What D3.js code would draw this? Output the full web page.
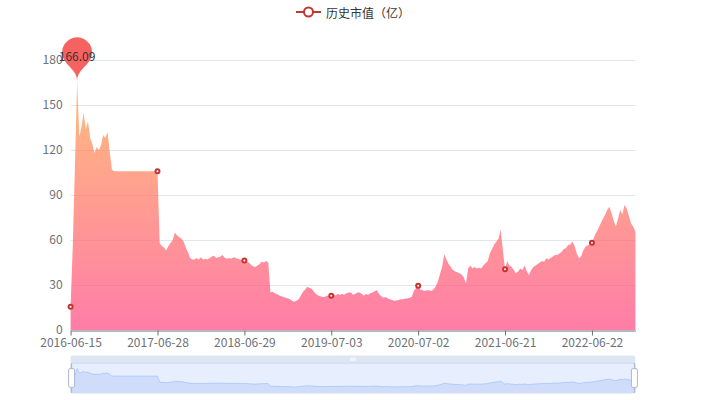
<!DOCTYPE html>
<html><head><meta charset="utf-8">
<script src="https://cdn.jsdelivr.net/npm/d3@7/dist/d3.min.js"></script>
<style>
body{margin:0;background:#fff}
svg{display:block}
text{font-family:"Microsoft YaHei","Noto Sans CJK SC","Noto Sans",sans-serif}
</style>
</head><body>
<svg id="chart" width="706" height="400"></svg>
<script>
// ---------------- data ----------------
const seriesName = "历史市值（亿）";
const tickLabels = ["2016-06-15","2017-06-28","2018-06-29","2019-07-03","2020-07-02","2021-06-21","2022-06-22"];
const labelInterval = 40;           // one labelled category every 40 points
const yTicks = [0, 30, 60, 90, 120, 150, 180];
const values = [
  15.5, 56, 110, 166.09, 129, 135, 145, 134, 139, 128,
  124, 118, 122, 120, 123, 130, 128, 132, 119, 107,
  105.8, 105.8, 105.8, 105.8, 105.8, 105.8, 105.8, 105.8, 105.8, 105.8,
  105.8, 105.8, 105.8, 105.8, 105.8, 105.8, 105.8, 105.8, 105.8, 105.8,
  105.8, 58, 56, 55, 53, 56, 58, 60, 65, 63,
  62, 61, 59, 55, 52, 48, 47, 47, 48, 47,
  48.5, 47, 47.5, 47, 48, 49, 49.5, 48, 48.5, 49,
  50, 48, 47.5, 48, 47.5, 48.5, 48, 47.5, 47, 46.5,
  46.3, 46, 45, 43.5, 42.5, 42, 43, 44, 45.5, 45,
  46, 45, 25, 25.5, 24.5, 24, 23, 22.5, 22, 21.5,
  21, 20.5, 19.5, 18.8, 19.5, 20.5, 23, 25.5, 27, 28.8,
  28, 27.5, 25.5, 24, 23, 22.5, 22, 22, 23, 22.5,
  22.9, 24, 23, 24, 23.5, 24, 23.5, 24.5, 25, 25,
  23.5, 24, 25, 25, 24, 23, 24, 23.5, 24.5, 25,
  26, 26.5, 24, 22.5, 21.5, 22, 21, 20.5, 20, 19.5,
  19.7, 20, 20.5, 20.5, 21, 21, 21.5, 22, 26, 28,
  29.5, 27, 26.5, 26, 26.5, 26.5, 26, 27, 29, 32,
  37, 42, 50.5, 47, 44, 42, 40, 39, 38.5, 37.8,
  37, 35, 31, 41, 43, 41, 42, 41, 41.5, 41,
  43, 44.5, 45.8, 51, 54, 57, 59, 61, 67, 53,
  40.5, 46, 43, 42, 40, 37.8, 39, 41, 40, 43,
  39, 36.7, 40, 42, 43, 44, 45, 46, 45.5, 47.8,
  47, 48, 49, 50, 50, 51, 52, 54, 54.5, 56.7,
  57, 59, 56, 51, 47.8, 49, 53, 55.5, 56.5, 57,
  58.2, 62, 65, 67.8, 71, 74, 76.7, 80, 82.2, 78,
  73, 69, 74, 80, 77, 83.3, 81, 76, 71, 69,
  65.7
];

// ---------------- layout ----------------
const W = 706, H = 400;
const gridLeft = 70.6, gridRight = 635.4, gridTop = 60, gridBottom = 330;
const seriesColor = "#c23531";
const axisColor = "#6E7079";
const splitColor = "#E0E6F1";
const font = 12;

const svg = d3.select("#chart");
const x = d3.scaleLinear().domain([0, values.length - 1]).range([gridLeft, gridRight]);
const y = d3.scaleLinear().domain([0, 180]).range([gridBottom, gridTop]);

// split lines
svg.append("g").selectAll("line").data(yTicks.filter(d => d > 0)).join("line")
  .attr("x1", gridLeft).attr("x2", gridRight)
  .attr("y1", d => y(d) + 0.5).attr("y2", d => y(d) + 0.5)
  .attr("stroke", splitColor).attr("stroke-width", 1);

// gradient for area
const defs = svg.append("defs");
const maxV = d3.max(values);
const grad = defs.append("linearGradient").attr("id", "areaGrad")
  .attr("gradientUnits", "userSpaceOnUse")
  .attr("x1", 0).attr("x2", 0).attr("y1", y(maxV)).attr("y2", y(0));
grad.append("stop").attr("offset", 0).attr("stop-color", "rgb(255,158,68)");
grad.append("stop").attr("offset", 1).attr("stop-color", "rgb(255,70,131)");

const area = d3.area().x((d, i) => x(i)).y0(y(0)).y1(d => y(d));
svg.append("path").datum(values).attr("d", area)
  .attr("fill", "url(#areaGrad)").attr("fill-opacity", 0.7);

// y axis
const yAxis = svg.append("g").attr("transform", `translate(${gridLeft},0)`)
  .call(d3.axisLeft(y).tickValues(yTicks).tickSize(0).tickPadding(8));
yAxis.select(".domain").remove();
yAxis.selectAll("text").attr("fill", axisColor).style("font-size", font + "px");

// x axis
const tickIdx = tickLabels.map((d, i) => i * labelInterval);
const xAxis = svg.append("g").attr("transform", `translate(0,${gridBottom + 0.5})`)
  .call(d3.axisBottom(x).tickValues(tickIdx).tickFormat(i => tickLabels[i / labelInterval])
    .tickSize(5).tickSizeOuter(0).tickPadding(3));
xAxis.select(".domain").attr("stroke", axisColor);
xAxis.selectAll(".tick line").attr("stroke", axisColor);
xAxis.selectAll("text").attr("fill", axisColor).style("font-size", font + "px");

// symbols at labelled categories
svg.append("g").selectAll("circle").data(tickIdx).join("circle")
  .attr("cx", i => x(i)).attr("cy", i => y(values[i])).attr("r", 2)
  .attr("fill", "#fff").attr("stroke", seriesColor).attr("stroke-width", 2);

// mark point (max) - pin
function pinPath(px, py, size) {
  const w = size / 5 * 3, h = Math.max(w, size), r = w / 2;
  const dy = r * r / (h - r), cy = py - h + r + dy;
  const angle = Math.asin(dy / r), dx = Math.cos(angle) * r;
  const tanX = Math.sin(angle), tanY = Math.cos(angle);
  const cpLen = r * 0.6, cpLen2 = r * 0.7;
  const p = d3.path();
  p.moveTo(px - dx, cy + dy);
  p.arc(px, cy, r, Math.PI - angle, Math.PI * 2 + angle);
  p.bezierCurveTo(px + dx - tanX * cpLen, cy + dy + tanY * cpLen, px, py - cpLen2, px, py);
  p.bezierCurveTo(px, py - cpLen2, px - dx + tanX * cpLen, cy + dy + tanY * cpLen, px - dx, cy + dy);
  p.closePath();
  return p.toString();
}
const maxI = values.indexOf(maxV);
svg.append("path").attr("d", pinPath(x(maxI), y(maxV), 50)).attr("fill", "#f5625f");
svg.append("text").attr("x", x(maxI)).attr("y", y(maxV) - 25)
  .attr("text-anchor", "middle").attr("dominant-baseline", "central")
  .attr("fill", "#333").style("font-size", font + "px").text(d3.format(".2f")(maxV));

// legend
const legendText = svg.append("text").attr("y", 12).attr("dominant-baseline", "central")
  .attr("fill", "#333").style("font-size", font + "px").text(seriesName);
const tw = legendText.node().getComputedTextLength();
const lx = (W - (25 + 5 + tw)) / 2;
legendText.attr("x", lx + 30);
svg.append("line").attr("x1", lx).attr("x2", lx + 25).attr("y1", 12).attr("y2", 12)
  .attr("stroke", seriesColor).attr("stroke-width", 2);
svg.append("circle").attr("cx", lx + 12.5).attr("cy", 12).attr("r", 4.5)
  .attr("fill", "#fff").attr("stroke", seriesColor).attr("stroke-width", 2);

// data zoom slider
const sTop = 363, sH = 30, sBottom = sTop + sH;
const sx = d3.scaleLinear().domain([0, values.length - 1]).range([gridLeft, gridRight]);
const ext = d3.extent(values), off = (ext[1] - ext[0]) * 0.3;
const sy = d3.scaleLinear().domain([ext[0] - off, ext[1] + off]).range([sBottom, sTop]);
const sg = svg.append("g");
// move handle bar
sg.append("path").attr("d", (() => { const p = d3.path();
    const x0 = gridLeft, x1 = gridRight, y0 = sTop - 7.5, y1 = sTop + 0.5, r = 2;
    p.moveTo(x0, y1); p.lineTo(x0, y0 + r); p.arcTo(x0, y0, x0 + r, y0, r);
    p.lineTo(x1 - r, y0); p.arcTo(x1, y0, x1, y0 + r, r); p.lineTo(x1, y1); p.closePath();
    return p.toString(); })())
  .attr("fill", "#D2DBEE").attr("fill-opacity", 0.7);
[-2, 0, 2].forEach(d => sg.append("rect").attr("x", (gridLeft + gridRight) / 2 + d - 0.5)
  .attr("y", sTop - 5.4).attr("width", 1.1).attr("height", 3.4).attr("rx", 0.5).attr("fill", "#fff"));
// data shadows
const sArea = d3.area().x((d, i) => sx(i)).y0(sBottom).y1(d => sy(d));
const sLine = d3.line().x((d, i) => sx(i)).y(d => sy(d));
sg.append("path").datum(values).attr("d", sArea).attr("fill", "#d2dbee").attr("fill-opacity", 0.2);
sg.append("path").datum(values).attr("d", sArea).attr("fill", "#8fb0f7").attr("fill-opacity", 0.2);
sg.append("path").datum(values).attr("d", sLine).attr("fill", "none").attr("stroke", "#8fb0f7").attr("stroke-width", 0.5);
// filler
sg.append("rect").attr("x", gridLeft).attr("y", sTop).attr("width", gridRight - gridLeft).attr("height", sH)
  .attr("fill", "rgba(135,175,255,0.2)");
// border
sg.append("rect").attr("x", gridLeft).attr("y", sTop).attr("width", gridRight - gridLeft).attr("height", sH)
  .attr("rx", 3).attr("fill", "none").attr("stroke", "#d2dbee");
// handles
[gridLeft + 1, gridRight - 1].forEach(hx => {
  const hg = sg.append("g");
  hg.append("line").attr("x1", hx).attr("x2", hx).attr("y1", sTop).attr("y2", sTop + 5.6).attr("stroke", "#ACB8D1");
  hg.append("line").attr("x1", hx).attr("x2", hx).attr("y1", sBottom - 5.6).attr("y2", sBottom).attr("stroke", "#ACB8D1");
  hg.append("rect").attr("x", hx - 3).attr("y", sTop + 5.6).attr("width", 6).attr("height", sH - 11.2)
    .attr("rx", 1.5).attr("fill", "#fff").attr("stroke", "#ACB8D1");
});
</script>
</body></html>
